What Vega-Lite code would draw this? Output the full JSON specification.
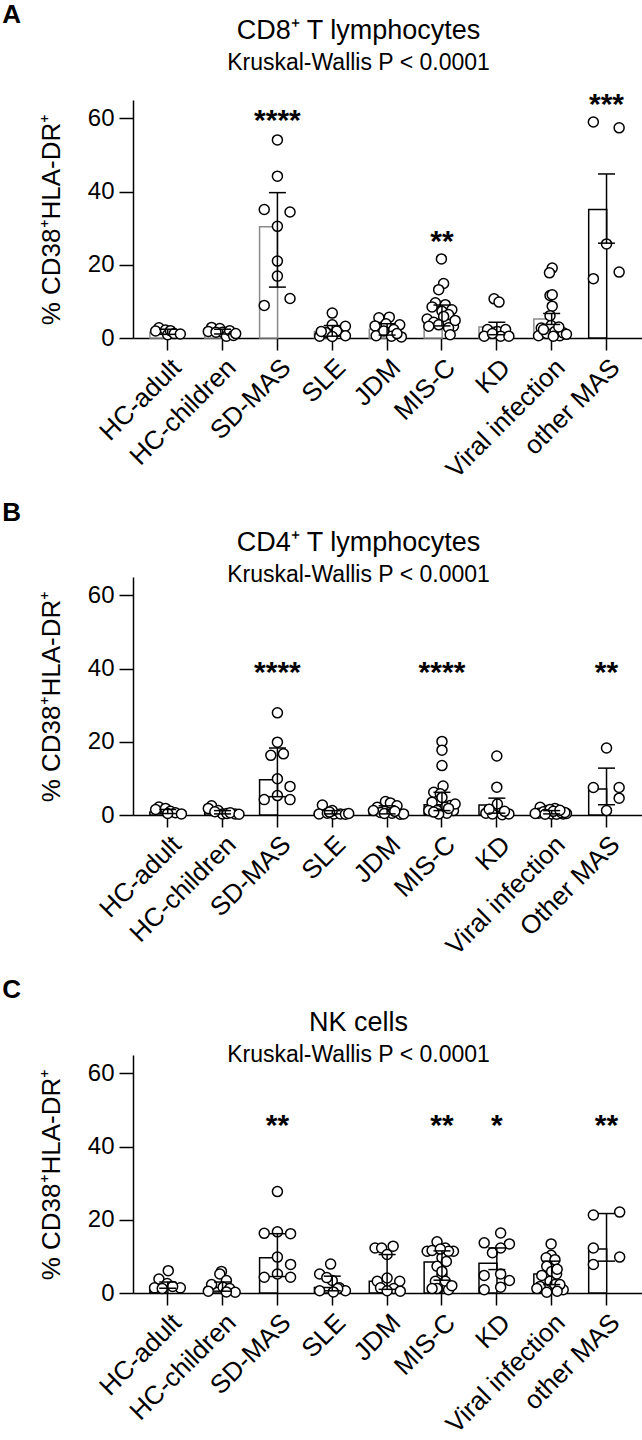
{
  "$schema": "https://vega.github.io/schema/vega-lite/v6.json",
  "padding": {"left": 2, "top": 1, "right": 0, "bottom": 2},
  "background": "white",
  "config": {
    "view": {"stroke": null},
    "font": "Liberation Sans",
    "concat": {"spacing": 17},
    "axis": {"domainColor": "black", "domainWidth": 1.5, "tickColor": "black", "tickWidth": 1.5, "labelColor": "black", "labelFont": "Liberation Sans", "labelFontSize": 24, "titleFont": "Liberation Sans", "titleColor": "black", "grid": false},
    "axisX": {"labelAngle": -45, "labelAlign": "right", "labelBaseline": "top", "tickSize": 12, "labelPadding": 4, "labelFontSize": 26, "title": null},
    "axisY": {"tickSize": 14, "labelPadding": 5, "titleFontSize": 26, "titleFontWeight": "normal", "titlePadding": 23},
    "title": {"font": "Liberation Sans", "fontSize": 27, "fontWeight": "normal", "color": "black", "subtitleFont": "Liberation Sans", "subtitleFontSize": 23, "subtitleColor": "black", "subtitlePadding": 7, "anchor": "middle", "dx": -30}
  },
  "datasets": {
    "A_sum": [
      {"g": "HC-adult", "m": 1.6, "lo": 1.0, "hi": 2.4},
      {"g": "HC-children", "m": 1.8, "lo": 1.1, "hi": 2.4},
      {"g": "SD-MAS", "m": 30.4, "lo": 13.9, "hi": 39.7},
      {"g": "SLE", "m": 1.8, "lo": 0.5, "hi": 3.4},
      {"g": "JDM", "m": 2.4, "lo": 0.8, "hi": 3.9},
      {"g": "MIS-C", "m": 5.2, "lo": 3.3, "hi": 9.0},
      {"g": "KD", "m": 3.0, "lo": 0.9, "hi": 4.3},
      {"g": "Viral infection", "m": 5.2, "lo": 3.7, "hi": 6.7},
      {"g": "other MAS", "m": 35.1, "lo": 25.9, "hi": 44.8}
    ],
    "A_stars": [
      {"g": "SD-MAS", "y": 56.9, "s": "****"},
      {"g": "MIS-C", "y": 23.8, "s": "**"},
      {"g": "other MAS", "y": 61.3, "s": "***"}
    ],
    "A_pts": [
      {"g": "HC-adult", "v": 2.8, "j": -0.16}, {"g": "HC-adult", "v": 1.9, "j": -0.22}, {"g": "HC-adult", "v": 2.2, "j": -0.04}, {"g": "HC-adult", "v": 0.9, "j": 0.0}, {"g": "HC-adult", "v": 2.0, "j": 0.05}, {"g": "HC-adult", "v": 1.2, "j": 0.12}, {"g": "HC-adult", "v": 1.1, "j": 0.23},
      {"g": "HC-children", "v": 2.9, "j": -0.2}, {"g": "HC-children", "v": 1.8, "j": -0.26}, {"g": "HC-children", "v": 2.6, "j": -0.05}, {"g": "HC-children", "v": 1.6, "j": 0.0}, {"g": "HC-children", "v": 0.5, "j": 0.07}, {"g": "HC-children", "v": 2.0, "j": 0.13}, {"g": "HC-children", "v": 0.7, "j": 0.2}, {"g": "HC-children", "v": 1.2, "j": 0.24}, {"g": "HC-children", "v": 1.6, "j": -0.12},
      {"g": "SD-MAS", "v": 54.1, "j": 0}, {"g": "SD-MAS", "v": 44.2, "j": 0}, {"g": "SD-MAS", "v": 35.1, "j": -0.24}, {"g": "SD-MAS", "v": 34.4, "j": 0.23}, {"g": "SD-MAS", "v": 30.5, "j": 0}, {"g": "SD-MAS", "v": 21.0, "j": 0}, {"g": "SD-MAS", "v": 16.9, "j": 0}, {"g": "SD-MAS", "v": 10.8, "j": 0.23}, {"g": "SD-MAS", "v": 8.9, "j": -0.24},
      {"g": "SLE", "v": 0.5, "j": -0.23}, {"g": "SLE", "v": 6.8, "j": 0}, {"g": "SLE", "v": 3.6, "j": 0}, {"g": "SLE", "v": 3.2, "j": 0.24}, {"g": "SLE", "v": 1.5, "j": -0.12}, {"g": "SLE", "v": 1.9, "j": 0.08}, {"g": "SLE", "v": 0.6, "j": 0.24}, {"g": "SLE", "v": 0.4, "j": 0.0}, {"g": "SLE", "v": 1.8, "j": -0.2},
      {"g": "JDM", "v": 5.5, "j": -0.15}, {"g": "JDM", "v": 5.7, "j": 0.04}, {"g": "JDM", "v": 3.6, "j": 0.23}, {"g": "JDM", "v": 3.3, "j": -0.22}, {"g": "JDM", "v": 3.9, "j": -0.02}, {"g": "JDM", "v": 2.3, "j": 0.12}, {"g": "JDM", "v": 0.6, "j": -0.2}, {"g": "JDM", "v": 0.5, "j": 0.08}, {"g": "JDM", "v": 0.3, "j": 0.26}, {"g": "JDM", "v": 1.9, "j": -0.06}, {"g": "JDM", "v": 1.2, "j": 0.18},
      {"g": "MIS-C", "v": 21.6, "j": -0.01}, {"g": "MIS-C", "v": 14.9, "j": 0.03}, {"g": "MIS-C", "v": 13.2, "j": -0.06}, {"g": "MIS-C", "v": 9.6, "j": -0.12}, {"g": "MIS-C", "v": 9.1, "j": 0.06}, {"g": "MIS-C", "v": 8.5, "j": -0.18}, {"g": "MIS-C", "v": 7.7, "j": 0.18}, {"g": "MIS-C", "v": 7.3, "j": 0.0}, {"g": "MIS-C", "v": 6.4, "j": 0.12}, {"g": "MIS-C", "v": 5.9, "j": 0.03}, {"g": "MIS-C", "v": 5.2, "j": -0.27}, {"g": "MIS-C", "v": 4.3, "j": -0.15}, {"g": "MIS-C", "v": 3.6, "j": -0.06}, {"g": "MIS-C", "v": 3.2, "j": -0.24}, {"g": "MIS-C", "v": 3.2, "j": 0.21}, {"g": "MIS-C", "v": 2.8, "j": 0.12}, {"g": "MIS-C", "v": 0.9, "j": 0.15}, {"g": "MIS-C", "v": 4.8, "j": 0.24},
      {"g": "KD", "v": 10.7, "j": -0.05}, {"g": "KD", "v": 9.8, "j": 0.04}, {"g": "KD", "v": 2.3, "j": -0.17}, {"g": "KD", "v": 1.8, "j": 0.01}, {"g": "KD", "v": 2.3, "j": 0.16}, {"g": "KD", "v": 0.5, "j": -0.23}, {"g": "KD", "v": 0.5, "j": 0.07}, {"g": "KD", "v": 0.5, "j": 0.22}, {"g": "KD", "v": 1.2, "j": -0.08},
      {"g": "Viral infection", "v": 19.1, "j": 0.01}, {"g": "Viral infection", "v": 17.8, "j": -0.04}, {"g": "Viral infection", "v": 11.6, "j": -0.03}, {"g": "Viral infection", "v": 11.8, "j": 0.01}, {"g": "Viral infection", "v": 8.7, "j": 0.01}, {"g": "Viral infection", "v": 6.1, "j": -0.03}, {"g": "Viral infection", "v": 2.7, "j": -0.19}, {"g": "Viral infection", "v": 3.4, "j": -0.01}, {"g": "Viral infection", "v": 0.6, "j": -0.24}, {"g": "Viral infection", "v": 1.2, "j": -0.09}, {"g": "Viral infection", "v": 1.8, "j": 0.06}, {"g": "Viral infection", "v": 0.6, "j": 0.15}, {"g": "Viral infection", "v": 1.4, "j": 0.21}, {"g": "Viral infection", "v": 0.5, "j": 0.03}, {"g": "Viral infection", "v": 2.3, "j": -0.15}, {"g": "Viral infection", "v": 1.0, "j": 0.27}, {"g": "Viral infection", "v": 3.0, "j": 0.13},
      {"g": "other MAS", "v": 59.0, "j": -0.24}, {"g": "other MAS", "v": 57.4, "j": 0.23}, {"g": "other MAS", "v": 25.7, "j": 0}, {"g": "other MAS", "v": 16.2, "j": -0.24}, {"g": "other MAS", "v": 18.0, "j": 0.23}
    ],
    "B_sum": [
      {"g": "HC-adult", "m": 0.8, "lo": 0.4, "hi": 1.5},
      {"g": "HC-children", "m": 0.6, "lo": 0.3, "hi": 1.2},
      {"g": "SD-MAS", "m": 9.6, "lo": 5.0, "hi": 18.3},
      {"g": "SLE", "m": 0.5, "lo": 0.3, "hi": 1.2},
      {"g": "JDM", "m": 0.8, "lo": 0.3, "hi": 2.5},
      {"g": "MIS-C", "m": 2.8, "lo": 1.2, "hi": 6.2},
      {"g": "KD", "m": 2.7, "lo": 0.5, "hi": 4.6},
      {"g": "Viral infection", "m": 0.6, "lo": 0.3, "hi": 1.2},
      {"g": "Other MAS", "m": 7.1, "lo": 2.8, "hi": 12.8}
    ],
    "B_stars": [
      {"g": "SD-MAS", "y": 36.4, "s": "****"},
      {"g": "MIS-C", "y": 36.4, "s": "****"},
      {"g": "Other MAS", "y": 36.4, "s": "**"}
    ],
    "B_pts": [
      {"g": "HC-adult", "v": 2.2, "j": -0.16}, {"g": "HC-adult", "v": 1.5, "j": -0.22}, {"g": "HC-adult", "v": 1.8, "j": -0.04}, {"g": "HC-adult", "v": 1.0, "j": 0.05}, {"g": "HC-adult", "v": 0.6, "j": 0.14}, {"g": "HC-adult", "v": 0.3, "j": 0.25}, {"g": "HC-adult", "v": 0.4, "j": 0.0},
      {"g": "HC-children", "v": 2.5, "j": -0.2}, {"g": "HC-children", "v": 1.8, "j": -0.26}, {"g": "HC-children", "v": 1.2, "j": -0.08}, {"g": "HC-children", "v": 0.3, "j": 0.0}, {"g": "HC-children", "v": 0.4, "j": 0.08}, {"g": "HC-children", "v": 0.3, "j": 0.23}, {"g": "HC-children", "v": 0.6, "j": 0.14}, {"g": "HC-children", "v": 0.9, "j": -0.14}, {"g": "HC-children", "v": 0.2, "j": 0.3},
      {"g": "SD-MAS", "v": 27.9, "j": 0}, {"g": "SD-MAS", "v": 19.9, "j": 0}, {"g": "SD-MAS", "v": 16.3, "j": -0.12}, {"g": "SD-MAS", "v": 16.7, "j": 0.11}, {"g": "SD-MAS", "v": 9.9, "j": 0}, {"g": "SD-MAS", "v": 7.8, "j": 0.23}, {"g": "SD-MAS", "v": 4.2, "j": -0.24}, {"g": "SD-MAS", "v": 5.3, "j": 0}, {"g": "SD-MAS", "v": 4.2, "j": 0.23},
      {"g": "SLE", "v": 2.7, "j": -0.18}, {"g": "SLE", "v": 0.3, "j": -0.24}, {"g": "SLE", "v": 0.5, "j": -0.09}, {"g": "SLE", "v": 0.3, "j": 0.03}, {"g": "SLE", "v": 0.3, "j": 0.15}, {"g": "SLE", "v": 0.2, "j": 0.24}, {"g": "SLE", "v": 1.2, "j": 0.0}, {"g": "SLE", "v": 0.8, "j": -0.05}, {"g": "SLE", "v": 0.4, "j": 0.3},
      {"g": "JDM", "v": 2.1, "j": -0.18}, {"g": "JDM", "v": 3.7, "j": -0.03}, {"g": "JDM", "v": 3.3, "j": 0.06}, {"g": "JDM", "v": 0.7, "j": -0.12}, {"g": "JDM", "v": 0.5, "j": 0.09}, {"g": "JDM", "v": 0.2, "j": 0.24}, {"g": "JDM", "v": 1.2, "j": -0.25}, {"g": "JDM", "v": 0.4, "j": -0.05}, {"g": "JDM", "v": 2.5, "j": 0.18}, {"g": "JDM", "v": 0.3, "j": 0.3}, {"g": "JDM", "v": 1.0, "j": 0.14},
      {"g": "MIS-C", "v": 20.1, "j": 0.0}, {"g": "MIS-C", "v": 17.7, "j": 0.0}, {"g": "MIS-C", "v": 13.5, "j": 0.0}, {"g": "MIS-C", "v": 7.9, "j": 0.02}, {"g": "MIS-C", "v": 6.2, "j": -0.15}, {"g": "MIS-C", "v": 5.8, "j": -0.03}, {"g": "MIS-C", "v": 4.8, "j": 0.0}, {"g": "MIS-C", "v": 3.5, "j": -0.18}, {"g": "MIS-C", "v": 2.6, "j": 0.15}, {"g": "MIS-C", "v": 2.1, "j": 0.06}, {"g": "MIS-C", "v": 1.2, "j": -0.09}, {"g": "MIS-C", "v": 1.2, "j": 0.21}, {"g": "MIS-C", "v": 1.2, "j": -0.24}, {"g": "MIS-C", "v": 0.5, "j": 0.09}, {"g": "MIS-C", "v": 0.3, "j": -0.06}, {"g": "MIS-C", "v": 3.0, "j": 0.24}, {"g": "MIS-C", "v": 1.8, "j": 0.12}, {"g": "MIS-C", "v": 0.8, "j": -0.15},
      {"g": "KD", "v": 16.1, "j": 0.0}, {"g": "KD", "v": 7.6, "j": 0.0}, {"g": "KD", "v": 3.0, "j": 0.01}, {"g": "KD", "v": 0.5, "j": -0.2}, {"g": "KD", "v": 0.3, "j": -0.08}, {"g": "KD", "v": 0.1, "j": 0.1}, {"g": "KD", "v": 0.3, "j": 0.22}, {"g": "KD", "v": 1.6, "j": -0.14}, {"g": "KD", "v": 1.0, "j": 0.14},
      {"g": "Viral infection", "v": 2.1, "j": -0.21}, {"g": "Viral infection", "v": 1.2, "j": -0.09}, {"g": "Viral infection", "v": 0.3, "j": 0.0}, {"g": "Viral infection", "v": 0.5, "j": 0.12}, {"g": "Viral infection", "v": 0.3, "j": 0.21}, {"g": "Viral infection", "v": 0.5, "j": -0.24}, {"g": "Viral infection", "v": 1.8, "j": 0.06}, {"g": "Viral infection", "v": 0.4, "j": 0.27}, {"g": "Viral infection", "v": 0.9, "j": -0.15}, {"g": "Viral infection", "v": 1.5, "j": -0.03}, {"g": "Viral infection", "v": 0.2, "j": 0.09}, {"g": "Viral infection", "v": 0.6, "j": 0.18}, {"g": "Viral infection", "v": 1.0, "j": 0.03}, {"g": "Viral infection", "v": 0.2, "j": -0.12}, {"g": "Viral infection", "v": 0.7, "j": 0.24}, {"g": "Viral infection", "v": 0.4, "j": -0.3}, {"g": "Viral infection", "v": 1.3, "j": 0.15},
      {"g": "Other MAS", "v": 18.3, "j": 0}, {"g": "Other MAS", "v": 7.5, "j": -0.24}, {"g": "Other MAS", "v": 7.5, "j": 0.23}, {"g": "Other MAS", "v": 4.6, "j": 0.23}, {"g": "Other MAS", "v": 1.2, "j": 0}
    ],
    "C_sum": [
      {"g": "HC-adult", "m": 1.8, "lo": 1.3, "hi": 3.0},
      {"g": "HC-children", "m": 1.5, "lo": 0.5, "hi": 3.0},
      {"g": "SD-MAS", "m": 9.6, "lo": 4.5, "hi": 16.2},
      {"g": "SLE", "m": 1.5, "lo": 0.6, "hi": 4.6},
      {"g": "JDM", "m": 3.2, "lo": 1.0, "hi": 10.5},
      {"g": "MIS-C", "m": 8.5, "lo": 3.5, "hi": 11.5},
      {"g": "KD", "m": 8.1, "lo": 6.4, "hi": 12.3},
      {"g": "Viral infection", "m": 5.2, "lo": 2.3, "hi": 8.7},
      {"g": "other MAS", "m": 12.0, "lo": 8.7, "hi": 21.7}
    ],
    "C_stars": [
      {"g": "SD-MAS", "y": 43.2, "s": "**"},
      {"g": "MIS-C", "y": 43.2, "s": "**"},
      {"g": "KD", "y": 43.2, "s": "*"},
      {"g": "other MAS", "y": 43.2, "s": "**"}
    ],
    "C_pts": [
      {"g": "HC-adult", "v": 6.1, "j": 0.01}, {"g": "HC-adult", "v": 3.8, "j": -0.16}, {"g": "HC-adult", "v": 2.6, "j": -0.01}, {"g": "HC-adult", "v": 1.4, "j": -0.24}, {"g": "HC-adult", "v": 1.4, "j": 0.23}, {"g": "HC-adult", "v": 1.8, "j": 0.09}, {"g": "HC-adult", "v": 1.2, "j": -0.1},
      {"g": "HC-children", "v": 5.9, "j": -0.02}, {"g": "HC-children", "v": 5.2, "j": -0.05}, {"g": "HC-children", "v": 3.4, "j": 0.07}, {"g": "HC-children", "v": 2.3, "j": -0.2}, {"g": "HC-children", "v": 1.6, "j": 0.01}, {"g": "HC-children", "v": 0.5, "j": -0.26}, {"g": "HC-children", "v": 1.2, "j": 0.13}, {"g": "HC-children", "v": 0.2, "j": 0.23}, {"g": "HC-children", "v": 0.3, "j": 0.07},
      {"g": "SD-MAS", "v": 27.7, "j": 0}, {"g": "SD-MAS", "v": 16.3, "j": -0.24}, {"g": "SD-MAS", "v": 16.7, "j": 0}, {"g": "SD-MAS", "v": 16.2, "j": 0.24}, {"g": "SD-MAS", "v": 9.8, "j": 0}, {"g": "SD-MAS", "v": 7.8, "j": 0.24}, {"g": "SD-MAS", "v": 4.3, "j": -0.24}, {"g": "SD-MAS", "v": 5.2, "j": 0}, {"g": "SD-MAS", "v": 4.3, "j": 0.24},
      {"g": "SLE", "v": 7.9, "j": -0.03}, {"g": "SLE", "v": 5.2, "j": -0.23}, {"g": "SLE", "v": 3.4, "j": 0}, {"g": "SLE", "v": 4.2, "j": -0.1}, {"g": "SLE", "v": 0.6, "j": -0.23}, {"g": "SLE", "v": 1.4, "j": 0.13}, {"g": "SLE", "v": 0.6, "j": 0.24}, {"g": "SLE", "v": 1.2, "j": 0.1}, {"g": "SLE", "v": 0.3, "j": 0.02},
      {"g": "JDM", "v": 12.3, "j": -0.22}, {"g": "JDM", "v": 12.3, "j": -0.1}, {"g": "JDM", "v": 10.5, "j": 0.0}, {"g": "JDM", "v": 12.8, "j": 0.11}, {"g": "JDM", "v": 4.1, "j": 0.0}, {"g": "JDM", "v": 3.2, "j": -0.18}, {"g": "JDM", "v": 3.2, "j": 0.23}, {"g": "JDM", "v": 1.4, "j": -0.12}, {"g": "JDM", "v": 1.2, "j": 0.12}, {"g": "JDM", "v": 0.6, "j": 0.0}, {"g": "JDM", "v": 0.5, "j": 0.24},
      {"g": "MIS-C", "v": 14.0, "j": -0.09}, {"g": "MIS-C", "v": 11.4, "j": -0.27}, {"g": "MIS-C", "v": 11.6, "j": -0.18}, {"g": "MIS-C", "v": 12.3, "j": 0.06}, {"g": "MIS-C", "v": 11.4, "j": 0.21}, {"g": "MIS-C", "v": 9.6, "j": 0.0}, {"g": "MIS-C", "v": 7.3, "j": -0.09}, {"g": "MIS-C", "v": 5.0, "j": 0.0}, {"g": "MIS-C", "v": 3.2, "j": -0.12}, {"g": "MIS-C", "v": 3.2, "j": 0.06}, {"g": "MIS-C", "v": 1.2, "j": -0.09}, {"g": "MIS-C", "v": 0.9, "j": 0.12}, {"g": "MIS-C", "v": 1.2, "j": -0.18}, {"g": "MIS-C", "v": 11.4, "j": 0.12}, {"g": "MIS-C", "v": 5.9, "j": 0.0}, {"g": "MIS-C", "v": 12.0, "j": -0.03}, {"g": "MIS-C", "v": 8.6, "j": 0.08}, {"g": "MIS-C", "v": 2.0, "j": 0.18},
      {"g": "KD", "v": 16.4, "j": 0.07}, {"g": "KD", "v": 13.7, "j": -0.23}, {"g": "KD", "v": 13.4, "j": 0.23}, {"g": "KD", "v": 11.0, "j": -0.08}, {"g": "KD", "v": 12.3, "j": 0.07}, {"g": "KD", "v": 4.8, "j": -0.23}, {"g": "KD", "v": 5.2, "j": 0.07}, {"g": "KD", "v": 3.4, "j": 0.23}, {"g": "KD", "v": 0.9, "j": -0.23}, {"g": "KD", "v": 1.6, "j": 0.07},
      {"g": "Viral infection", "v": 13.4, "j": -0.01}, {"g": "Viral infection", "v": 10.3, "j": -0.01}, {"g": "Viral infection", "v": 9.6, "j": -0.1}, {"g": "Viral infection", "v": 9.1, "j": 0.06}, {"g": "Viral infection", "v": 7.3, "j": -0.09}, {"g": "Viral infection", "v": 5.9, "j": 0.0}, {"g": "Viral infection", "v": 4.8, "j": -0.18}, {"g": "Viral infection", "v": 5.2, "j": 0.09}, {"g": "Viral infection", "v": 3.2, "j": -0.03}, {"g": "Viral infection", "v": 1.8, "j": -0.21}, {"g": "Viral infection", "v": 2.3, "j": 0.06}, {"g": "Viral infection", "v": 1.2, "j": -0.27}, {"g": "Viral infection", "v": 0.9, "j": 0.21}, {"g": "Viral infection", "v": 2.3, "j": 0.15}, {"g": "Viral infection", "v": 0.2, "j": -0.09}, {"g": "Viral infection", "v": 6.5, "j": 0.1}, {"g": "Viral infection", "v": 0.5, "j": 0.1},
      {"g": "other MAS", "v": 21.3, "j": -0.24}, {"g": "other MAS", "v": 22.1, "j": 0.24}, {"g": "other MAS", "v": 12.3, "j": -0.24}, {"g": "other MAS", "v": 9.8, "j": 0.24}, {"g": "other MAS", "v": 7.8, "j": -0.24}
    ]
  },
  "vconcat": [
    {
      "title": {"text": "A", "anchor": "start", "frame": "bounds", "fontSize": 26, "fontWeight": "bold", "dx": -36, "dy": 11, "offset": 0},
      "vconcat": [
        {
          "width": 511, "height": 238,
          "title": {"text": "CD8⁺ T lymphocytes", "subtitle": "Kruskal-Wallis P < 0.0001", "offset": 14},
          "encoding": {"x": {"field": "g", "type": "nominal", "scale": {"domain": ["HC-adult", "HC-children", "SD-MAS", "SLE", "JDM", "MIS-C", "KD", "Viral infection", "other MAS"], "paddingInner": 0, "paddingOuter": 0.158, "align": 0.42}}},
          "layer": [
            {"data": {"name": "A_sum"}, "mark": {"type": "bar", "width": {"band": 0.65}, "fill": "white", "strokeWidth": 1.5}, "encoding": {"stroke": {"condition": {"test": "datum.g === 'other MAS'", "value": "black"}, "value": "#8a8a8a"}, "y": {"field": "m", "type": "quantitative", "scale": {"domain": [0, 65], "nice": false}, "axis": {"title": "% CD38⁺HLA-DR⁺", "values": [0, 20, 40, 60]}}}},
            {"data": {"name": "A_pts"}, "mark": {"type": "point", "shape": "circle", "filled": true, "fill": "white", "stroke": "black", "strokeWidth": 1.5, "size": 100, "opacity": 1}, "encoding": {"xOffset": {"field": "j", "type": "quantitative", "scale": {"domain": [-0.5, 0.5], "range": [0, 54.85]}}, "y": {"field": "v", "type": "quantitative"}}},
            {"data": {"name": "A_sum"}, "mark": {"type": "rule", "strokeWidth": 1.5, "color": "black"}, "encoding": {"y": {"field": "lo", "type": "quantitative"}, "y2": {"field": "hi"}}},
            {"data": {"name": "A_sum"}, "mark": {"type": "tick", "size": 17, "thickness": 1.5, "color": "black", "opacity": 1}, "encoding": {"y": {"field": "lo", "type": "quantitative"}}},
            {"data": {"name": "A_sum"}, "mark": {"type": "tick", "size": 17, "thickness": 1.5, "color": "black", "opacity": 1}, "encoding": {"y": {"field": "hi", "type": "quantitative"}}},
            {"data": {"name": "A_stars"}, "mark": {"type": "text", "fontSize": 30, "fontWeight": "bold", "baseline": "alphabetic", "align": "center", "color": "black"}, "encoding": {"y": {"field": "y", "type": "quantitative"}, "text": {"field": "s"}}}
          ]
        }
      ]
    },
    {
      "title": {"text": "B", "anchor": "start", "frame": "bounds", "fontSize": 26, "fontWeight": "bold", "dx": -36, "dy": 0, "offset": 3},
      "vconcat": [
        {
          "width": 511, "height": 238,
          "title": {"text": "CD4⁺ T lymphocytes", "subtitle": "Kruskal-Wallis P < 0.0001", "offset": -11},
          "encoding": {"x": {"field": "g", "type": "nominal", "scale": {"domain": ["HC-adult", "HC-children", "SD-MAS", "SLE", "JDM", "MIS-C", "KD", "Viral infection", "Other MAS"], "paddingInner": 0, "paddingOuter": 0.158, "align": 0.42}}},
          "layer": [
            {"data": {"name": "B_sum"}, "mark": {"type": "bar", "width": {"band": 0.65}, "fill": "white", "stroke": "black", "strokeWidth": 1.5}, "encoding": {"y": {"field": "m", "type": "quantitative", "scale": {"domain": [0, 65], "nice": false}, "axis": {"title": "% CD38⁺HLA-DR⁺", "values": [0, 20, 40, 60]}}}},
            {"data": {"name": "B_pts"}, "mark": {"type": "point", "shape": "circle", "filled": true, "fill": "white", "stroke": "black", "strokeWidth": 1.5, "size": 100, "opacity": 1}, "encoding": {"xOffset": {"field": "j", "type": "quantitative", "scale": {"domain": [-0.5, 0.5], "range": [0, 54.85]}}, "y": {"field": "v", "type": "quantitative"}}},
            {"data": {"name": "B_sum"}, "mark": {"type": "rule", "strokeWidth": 1.5, "color": "black"}, "encoding": {"y": {"field": "lo", "type": "quantitative"}, "y2": {"field": "hi"}}},
            {"data": {"name": "B_sum"}, "mark": {"type": "tick", "size": 17, "thickness": 1.5, "color": "black", "opacity": 1}, "encoding": {"y": {"field": "lo", "type": "quantitative"}}},
            {"data": {"name": "B_sum"}, "mark": {"type": "tick", "size": 17, "thickness": 1.5, "color": "black", "opacity": 1}, "encoding": {"y": {"field": "hi", "type": "quantitative"}}},
            {"data": {"name": "B_stars"}, "mark": {"type": "text", "fontSize": 30, "fontWeight": "bold", "baseline": "alphabetic", "align": "center", "color": "black"}, "encoding": {"y": {"field": "y", "type": "quantitative"}, "text": {"field": "s"}}}
          ]
        }
      ]
    },
    {
      "title": {"text": "C", "anchor": "start", "frame": "bounds", "fontSize": 26, "fontWeight": "bold", "dx": -36, "dy": 5, "offset": 11},
      "vconcat": [
        {
          "width": 511, "height": 238,
          "title": {"text": "NK cells", "subtitle": "Kruskal-Wallis P < 0.0001", "offset": -13},
          "encoding": {"x": {"field": "g", "type": "nominal", "scale": {"domain": ["HC-adult", "HC-children", "SD-MAS", "SLE", "JDM", "MIS-C", "KD", "Viral infection", "other MAS"], "paddingInner": 0, "paddingOuter": 0.158, "align": 0.42}}},
          "layer": [
            {"data": {"name": "C_sum"}, "mark": {"type": "bar", "width": {"band": 0.65}, "fill": "white", "stroke": "black", "strokeWidth": 1.5}, "encoding": {"y": {"field": "m", "type": "quantitative", "scale": {"domain": [0, 65], "nice": false}, "axis": {"title": "% CD38⁺HLA-DR⁺", "values": [0, 20, 40, 60]}}}},
            {"data": {"name": "C_pts"}, "mark": {"type": "point", "shape": "circle", "filled": true, "fill": "white", "stroke": "black", "strokeWidth": 1.5, "size": 100, "opacity": 1}, "encoding": {"xOffset": {"field": "j", "type": "quantitative", "scale": {"domain": [-0.5, 0.5], "range": [0, 54.85]}}, "y": {"field": "v", "type": "quantitative"}}},
            {"data": {"name": "C_sum"}, "mark": {"type": "rule", "strokeWidth": 1.5, "color": "black"}, "encoding": {"y": {"field": "lo", "type": "quantitative"}, "y2": {"field": "hi"}}},
            {"data": {"name": "C_sum"}, "mark": {"type": "tick", "size": 17, "thickness": 1.5, "color": "black", "opacity": 1}, "encoding": {"y": {"field": "lo", "type": "quantitative"}}},
            {"data": {"name": "C_sum"}, "mark": {"type": "tick", "size": 17, "thickness": 1.5, "color": "black", "opacity": 1}, "encoding": {"y": {"field": "hi", "type": "quantitative"}}},
            {"data": {"name": "C_stars"}, "mark": {"type": "text", "fontSize": 30, "fontWeight": "bold", "baseline": "alphabetic", "align": "center", "color": "black"}, "encoding": {"y": {"field": "y", "type": "quantitative"}, "text": {"field": "s"}}}
          ]
        }
      ]
    }
  ]
}
